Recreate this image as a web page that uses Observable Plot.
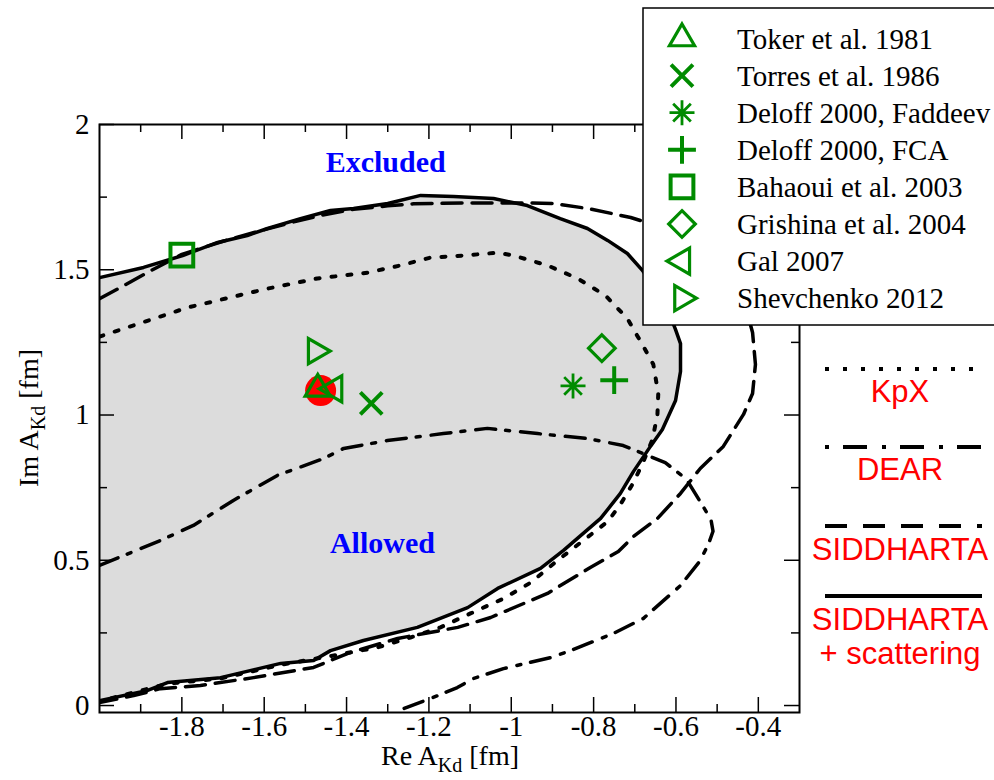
<!DOCTYPE html>
<html><head><meta charset="utf-8">
<script src="https://cdn.jsdelivr.net/npm/d3@7"></script>
<script src="https://cdn.jsdelivr.net/npm/@observablehq/plot@0.6"></script>
<style>body{margin:0;background:#fff} svg{display:block}</style>
</head><body><div id="chart"></div><script>
// ---- data ----
const siddScatRe = [-2.0, -1.893, -1.798, -1.713, -1.641, -1.592, -1.512, -1.439, -1.383, -1.30, -1.22, -1.14, -1.043, -0.961, -0.881, -0.815, -0.766, -0.718, -0.681, -0.63, -0.601, -0.589, -0.589, -0.601, -0.633, -0.662, -0.703, -0.735, -0.783, -0.873, -0.929, -1.033, -1.106, -1.228, -1.359, -1.439, -1.48, -1.56, -1.706, -1.835, -1.883, -2.0];
const siddScatIm = [1.473, 1.508, 1.549, 1.594, 1.618, 1.642, 1.676, 1.704, 1.711, 1.728, 1.756, 1.752, 1.745, 1.721, 1.676, 1.642, 1.601, 1.556, 1.497, 1.40, 1.294, 1.246, 1.150, 1.05, 0.950, 0.892, 0.806, 0.730, 0.644, 0.534, 0.472, 0.403, 0.337, 0.269, 0.224, 0.189, 0.155, 0.145, 0.096, 0.079, 0.052, 0.017];

const siddRe = [-2.0, -1.949, -1.883, -1.8, -1.70, -1.633, -1.52, -1.463, -1.383, -1.30, -1.237, -1.10, -0.953, -0.898, -0.815, -0.71, -0.60, -0.50, -0.44, -0.414, -0.407, -0.414, -0.436, -0.485, -0.541, -0.589, -0.645, -0.703, -0.74, -0.808, -0.912, -1.05, -1.13, -1.276, -1.398, -1.48, -1.626, -1.755, -1.852, -1.917, -2.0];
const siddIm = [1.40, 1.439, 1.491, 1.553, 1.598, 1.625, 1.668, 1.687, 1.708, 1.72, 1.727, 1.73, 1.73, 1.728, 1.711, 1.68, 1.63, 1.55, 1.42, 1.284, 1.174, 1.074, 1.002, 0.892, 0.816, 0.730, 0.644, 0.582, 0.53, 0.475, 0.386, 0.303, 0.269, 0.231, 0.179, 0.131, 0.096, 0.069, 0.058, 0.034, 0.010];

const kpxRe = [-2.0, -1.786, -1.592, -1.471, -1.349, -1.269, -1.196, -1.116, -1.031, -0.995, -0.912, -0.839, -0.771, -0.718, -0.679, -0.655, -0.643, -0.645, -0.657, -0.679, -0.703, -0.735, -0.766, -0.888, -0.953, -1.019, -1.099, -1.172, -1.245, -1.325, -1.44, -1.56, -1.706, -1.835, -2.0];
const kpxIm = [1.27, 1.370, 1.435, 1.470, 1.49, 1.515, 1.542, 1.549, 1.559, 1.549, 1.515, 1.47, 1.411, 1.332, 1.236, 1.174, 1.074, 1.002, 0.916, 0.840, 0.768, 0.692, 0.633, 0.499, 0.423, 0.368, 0.317, 0.269, 0.234, 0.2, 0.17, 0.14, 0.093, 0.075, 0.015];

const dearRe = [-2.0, -1.852, -1.772, -1.675, -1.568, -1.456, -1.407, -1.301, -1.165, -1.058, -0.936, -0.815, -0.728, -0.626, -0.575, -0.543, -0.515, -0.51, -0.52, -0.541, -0.589, -0.679, -0.752, -0.856, -0.905, -1.019, -1.092, -1.131, -1.196, -1.26];
const dearIm = [0.482, 0.568, 0.620, 0.706, 0.792, 0.850, 0.885, 0.912, 0.936, 0.954, 0.936, 0.919, 0.895, 0.836, 0.78, 0.706, 0.64, 0.60, 0.56, 0.499, 0.413, 0.30, 0.248, 0.189, 0.165, 0.127, 0.093, 0.062, 0.024, -0.01];

const expNames = ["Toker et al. 1981", "Torres et al. 1986", "Deloff 2000, Faddeev", "Deloff 2000, FCA", "Bahaoui et al. 2003", "Grishina et al. 2004", "Gal 2007", "Shevchenko 2012"];
const expRe = [-1.47, -1.34, -0.85, -0.75, -1.80, -0.78, -1.43, -1.475];
const expIm = [1.09, 1.04, 1.10, 1.12, 1.55, 1.23, 1.09, 1.22];

const resultRe = [-1.463];
const resultIm = [1.084];

const annoText = ["Excluded", "Allowed"];
const annoRe = [-1.305, -1.313];
const annoIm = [1.869, 0.558];

const curveLabels = ["KpX", "DEAR", "SIDDHARTA", "SIDDHARTA|+ scattering"];

const xTicks = [-1.8, -1.6, -1.4, -1.2, -1, -0.8, -0.6, -0.4];
const xMinorTicks = [-1.9, -1.7, -1.5, -1.3, -1.1, -0.9, -0.7, -0.5];
const yTicks = [0, 0.5, 1, 1.5, 2];
const yMinorTicks = [0.25, 0.75, 1.25, 1.75];

// ---- build tables ----
const pts = (re, im) => re.map((x, i) => ({x, y: im[i]}));
const siddScat = pts(siddScatRe, siddScatIm);
const sidd = pts(siddRe, siddIm);
const kpx = pts(kpxRe, kpxIm);
const dear = pts(dearRe, dearIm);
const exps = expNames.map((name, i) => ({name, x: expRe[i], y: expIm[i]}));
const result = pts(resultRe, resultIm);
const annos = annoText.map((t, i) => ({t, x: annoRe[i], y: annoIm[i]}));

// ---- styles ----
const GREEN = "#008b00";
const asterisk8 = {draw(context, size) {
  const r = Math.sqrt(size / Math.PI), d = r * Math.SQRT1_2;
  context.moveTo(0, -r); context.lineTo(0, r);
  context.moveTo(-r, 0); context.lineTo(r, 0);
  context.moveTo(-d, -d); context.lineTo(d, d);
  context.moveTo(-d, d); context.lineTo(d, -d);
}};
const markerStyle = {
  "Toker et al. 1981": {symbol: "triangle2", r: 12, rotate: 0, sw: 3.2},
  "Torres et al. 1986": {symbol: "times", r: 10, rotate: 0, sw: 4},
  "Deloff 2000, Faddeev": {symbol: asterisk8, r: 12.5, rotate: 0, sw: 2.8},
  "Deloff 2000, FCA": {symbol: "plus", r: 9, rotate: 0, sw: 4},
  "Bahaoui et al. 2003": {symbol: "square2", r: 14.5, rotate: 0, sw: 4},
  "Grishina et al. 2004": {symbol: "diamond2", r: 12, rotate: 0, sw: 3.2},
  "Gal 2007": {symbol: "triangle2", r: 12.5, rotate: -90, sw: 3.2},
  "Shevchenko 2012": {symbol: "triangle2", r: 12, rotate: 90, sw: 3.2}
};
const d3Sym = {triangle2: d3.symbolTriangle2, times: d3.symbolTimes, plus: d3.symbolPlus, square2: d3.symbolSquare2, diamond2: d3.symbolDiamond2};

const W = 994, H = 780, mT = 124, mB = 68, mL = 99, mR = 195;
const frameW = W - mL - mR, frameH = H - mT - mB;
const DOT = "4,12", DASHDOT = "20,10,4,11", DASH = "20,10";

const expMarks = exps.map(d => {
  const s = markerStyle[d.name];
  return Plot.dot([d], {x: "x", y: "y", symbol: s.symbol, r: s.r, rotate: s.rotate, stroke: GREEN, strokeWidth: s.sw, fill: "none"});
});

const chart = Plot.plot({
  width: W, height: H, marginTop: mT, marginBottom: mB, marginLeft: mL, marginRight: mR,
  x: {domain: [-2, -0.3]},
  y: {domain: [-0.024, 2]},
  style: {fontFamily: "'Liberation Serif', 'Times New Roman', serif", fontSize: "29px", color: "black", background: "white", overflow: "visible"},
  marks: [
    Plot.line(siddScat, {x: "x", y: "y", fill: "#dcdcdc", stroke: "none", clip: true}),
    Plot.line(kpx, {x: "x", y: "y", stroke: "black", strokeWidth: 4, strokeDasharray: DOT, clip: true}),
    Plot.line(dear, {x: "x", y: "y", stroke: "black", strokeWidth: 3.5, strokeDasharray: DASHDOT, clip: true}),
    Plot.line(sidd, {x: "x", y: "y", stroke: "black", strokeWidth: 3.5, strokeDasharray: DASH, clip: true}),
    Plot.line(siddScat, {x: "x", y: "y", stroke: "black", strokeWidth: 3.5, clip: true}),
    Plot.dot(result, {x: "x", y: "y", r: 15.5, fill: "#ff0000", stroke: "none"}),
    ...expMarks,
    Plot.text(annos, {x: "x", y: "y", text: "t", fill: "#0000ff", fontWeight: "bold", fontSize: 30}),
    Plot.frame({stroke: "black", strokeWidth: 2}),
    Plot.ruleX(xTicks, {x: d => d, insetTop: frameH - 15, strokeWidth: 1.5}),
    Plot.ruleX(xTicks, {x: d => d, insetBottom: frameH - 15, strokeWidth: 1.5}),
    Plot.ruleX(xMinorTicks, {x: d => d, insetTop: frameH - 8, strokeWidth: 1.5}),
    Plot.ruleX(xMinorTicks, {x: d => d, insetBottom: frameH - 8, strokeWidth: 1.5}),
    Plot.ruleY(yTicks, {y: d => d, insetRight: frameW - 15, strokeWidth: 1.5}),
    Plot.ruleY(yTicks, {y: d => d, insetLeft: frameW - 15, strokeWidth: 1.5}),
    Plot.ruleY(yMinorTicks, {y: d => d, insetRight: frameW - 8, strokeWidth: 1.5}),
    Plot.ruleY(yMinorTicks, {y: d => d, insetLeft: frameW - 8, strokeWidth: 1.5}),
    Plot.axisX(xTicks, {tickSize: 0, tickPadding: 3, tickFormat: d => String(d), label: null, fontSize: 29}),
    Plot.axisY(yTicks, {tickSize: 0, tickPadding: 10, tickFormat: d => String(d), label: null, fontSize: 29})
  ]
});
document.getElementById("chart").appendChild(chart);

const svg = d3.select(chart);
const serif = "'Liberation Serif', 'Times New Roman', serif";
const sans = "'Liberation Sans', Arial, sans-serif";

// axis titles
const yl = svg.append("text").attr("transform", "translate(38,418) rotate(-90)")
  .attr("text-anchor", "middle").attr("font-family", serif).attr("font-size", 28).attr("fill", "black");
yl.append("tspan").text("Im A");
yl.append("tspan").attr("font-size", 20).attr("dy", 7).text("Kd");
yl.append("tspan").attr("dy", -7).text(" [fm]");

const xl = svg.append("text").attr("x", 450).attr("y", 765)
  .attr("text-anchor", "middle").attr("font-family", serif).attr("font-size", 28).attr("fill", "black");
xl.append("tspan").text("Re A");
xl.append("tspan").attr("font-size", 20).attr("dy", 7).text("Kd");
xl.append("tspan").attr("dy", -7).text(" [fm]");

// symbol legend
const lg = svg.append("g");
lg.append("rect").attr("x", 643).attr("y", 8).attr("width", 380).attr("height", 317)
  .attr("fill", "white").attr("stroke", "black").attr("stroke-width", 1.5);
expNames.forEach((name, i) => {
  const y = 38.5 + i * 37.1;
  const s = markerStyle[name];
  const type = typeof s.symbol === "string" ? d3Sym[s.symbol] : s.symbol;
  lg.append("path").attr("d", d3.symbol(type, s.r * s.r * Math.PI)())
    .attr("transform", `translate(682,${y}) rotate(${s.rotate})`)
    .attr("fill", "none").attr("stroke", GREEN).attr("stroke-width", s.sw);
  lg.append("text").attr("x", 737).attr("y", y).attr("dy", "0.35em").attr("text-anchor", "start")
    .attr("font-family", serif).attr("font-size", 29).attr("fill", "black").text(name);
});

// line-style legend
const lineKeys = [
  {dash: "4,14", ly: 369, ty: [402]},
  {dash: "4,14,24,15", ly: 447, ty: [480]},
  {dash: "22,16", ly: 526, ty: [560]},
  {dash: null, ly: 596, ty: [630, 664]}
];
curveLabels.forEach((lab, i) => {
  const k = lineKeys[i];
  const ln = svg.append("line").attr("x1", 825).attr("x2", 982).attr("y1", k.ly).attr("y2", k.ly)
    .attr("stroke", "black").attr("stroke-width", 4);
  if (k.dash) ln.attr("stroke-dasharray", k.dash);
  lab.split("|").forEach((part, j) => {
    svg.append("text").attr("x", 900).attr("y", k.ty[j]).attr("text-anchor", "middle")
      .attr("font-family", sans).attr("font-size", 31).attr("fill", "#ff0000").text(part);
  });
});
</script></body></html>
